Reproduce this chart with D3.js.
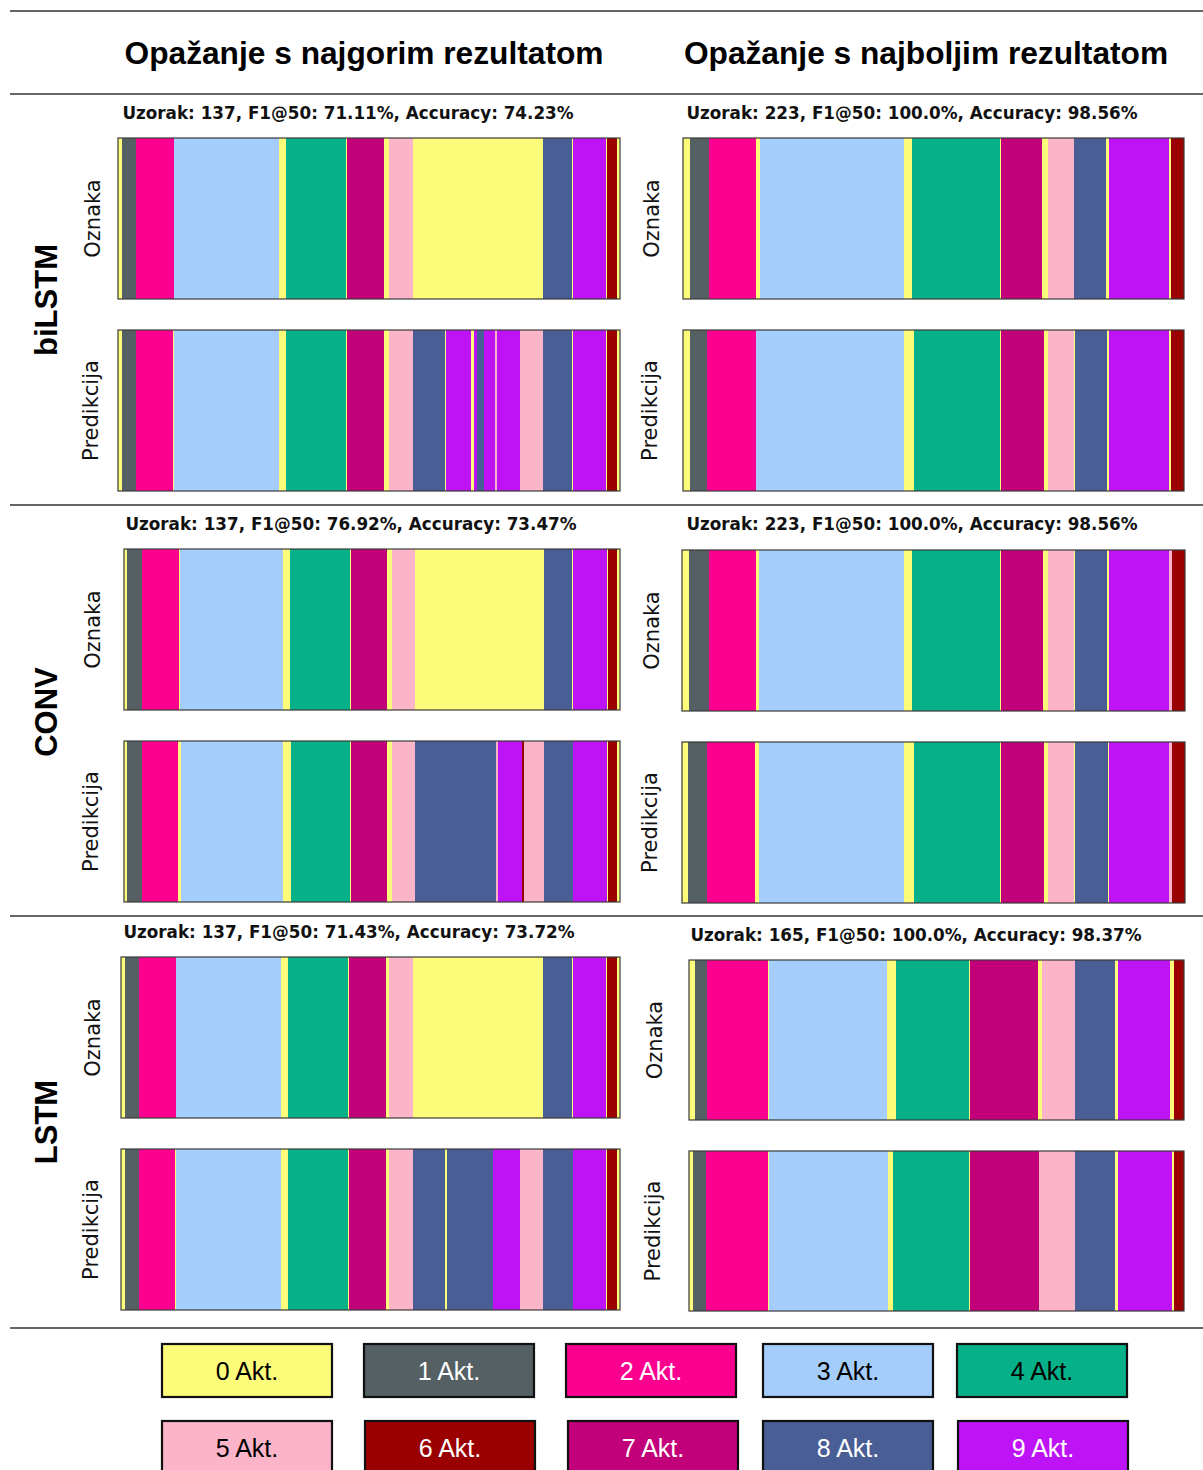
<!DOCTYPE html>
<html>
<head>
<meta charset="utf-8">
<script src="https://cdn.jsdelivr.net/npm/d3@7"></script>
<style>
html,body{margin:0;padding:0;background:#fff;}
svg{display:block;}
</style>
</head>
<body>
<svg id="chart" width="1203" height="1470"></svg>
<script>
// ---------------- DATA ----------------
const classIds = [0,1,2,3,4,5,6,7,8,9];
const legendLabels = ["0 Akt.","1 Akt.","2 Akt.","3 Akt.","4 Akt.","5 Akt.","6 Akt.","7 Akt.","8 Akt.","9 Akt."];
const classColors = ["#fdfb7a","#546064","#fc0090","#a4cdfb","#06b089","#fcb4c9","#9a0000","#c2007a","#485e95","#bf13f7"];
const legendTextColors = ["#000","#fff","#fff","#000","#000","#000","#fff","#fff","#fff","#fff"];

const columnTitles = ["Opažanje s najgorim rezultatom","Opažanje s najboljim rezultatom"];
const modelNames = ["biLSTM","CONV","LSTM"];
const rowNames = ["Oznaka","Predikcija"];

// per panel (row-major: model x [worst, best])
const sampleIds   = [[137,223],[137,223],[137,165]];
const f1Scores    = [["71.11","100.0"],["76.92","100.0"],["71.43","100.0"]];
const accuracies  = [["74.23","98.56"],["73.47","98.56"],["73.72","98.37"]];

// segments: [class, frames]
const biLSTM_worst_label = [[0,13],[1,40],[2,115],[3,314],[0,20],[4,182],[0,3],[7,110],[0,13],[5,72],[0,391],[8,86],[0,4],[9,97],[0,5],[6,30],[0,8]];
const biLSTM_worst_pred  = [[0,13],[1,40],[2,112],[0,3],[3,314],[0,20],[4,182],[0,3],[7,110],[0,13],[5,72],[8,96],[0,4],[9,75],[0,8],[9,10],[8,20],[9,35],[5,5],[9,68],[5,70],[8,86],[0,4],[9,97],[0,5],[6,30],[0,8]];
const biLSTM_best_label  = [[0,20],[1,58],[2,142],[0,10],[3,433],[0,25],[4,262],[0,4],[7,124],[0,17],[5,78],[8,97],[0,8],[9,180],[0,7],[6,38]];
const biLSTM_best_pred   = [[0,20],[1,53],[2,147],[3,443],[0,30],[4,257],[0,4],[7,128],[0,13],[5,78],[0,2],[8,98],[0,5],[9,180],[0,7],[6,38]];

const CONV_worst_label = [[0,10],[1,43],[2,113],[0,2],[3,310],[0,20],[4,180],[0,2],[7,110],[0,13],[5,70],[0,388],[8,84],[0,3],[9,100],[0,3],[6,27],[0,10]];
const CONV_worst_pred  = [[0,10],[1,43],[2,110],[0,8],[3,307],[0,23],[4,177],[0,2],[7,110],[0,13],[5,70],[8,242],[5,8],[9,72],[6,6],[5,60],[8,87],[9,100],[0,3],[6,27],[0,10]];
const CONV_best_label  = [[0,20],[1,61],[2,142],[0,8],[3,435],[0,25],[4,262],[0,3],[7,125],[0,17],[5,78],[0,2],[8,95],[0,8],[9,180],[5,7],[6,40]];
const CONV_best_pred   = [[0,18],[1,57],[2,143],[0,13],[3,435],[0,30],[4,257],[0,3],[7,130],[0,12],[5,78],[0,2],[8,98],[0,5],[9,180],[5,7],[6,40]];

const LSTM_worst_label = [[0,13],[1,40],[2,113],[3,314],[0,20],[4,181],[0,3],[7,111],[0,11],[5,72],[0,390],[8,85],[0,3],[9,99],[0,5],[6,28],[0,10]];
const LSTM_worst_pred  = [[0,13],[1,40],[2,110],[0,2],[3,315],[0,20],[4,181],[0,3],[7,111],[0,11],[5,72],[8,95],[0,5],[8,140],[9,80],[5,70],[8,88],[9,99],[0,5],[6,28],[0,10]];
const LSTM_best_label  = [[0,17],[1,38],[2,182],[0,2],[3,355],[0,26],[4,219],[0,3],[7,205],[0,10],[5,100],[8,120],[0,8],[9,157],[0,12],[6,30]];
const LSTM_best_pred   = [[0,12],[1,40],[2,185],[0,2],[3,358],[0,15],[4,227],[0,3],[7,208],[5,107],[8,120],[0,8],[9,162],[0,7],[6,30]];

const stripData = [
  [[biLSTM_worst_label, biLSTM_worst_pred],[biLSTM_best_label, biLSTM_best_pred]],
  [[CONV_worst_label, CONV_worst_pred],[CONV_best_label, CONV_best_pred]],
  [[LSTM_worst_label, LSTM_worst_pred],[LSTM_best_label, LSTM_best_pred]]
];

// ---------------- LAYOUT (positions, not data) ----------------
const layout = [
  [ {x0:118,x1:620,y:[138,330],h:161,sx:348,sy:113,lx:93},
    {x0:683,x1:1184,y:[138,330],h:161,sx:912,sy:113,lx:652} ],
  [ {x0:124,x1:620,y:[549,741],h:161,sx:351,sy:524,lx:93},
    {x0:682,x1:1185,y:[550,742],h:161,sx:912,sy:524,lx:652} ],
  [ {x0:121,x1:620,y:[957,1149],h:161,sx:349,sy:932,lx:93},
    {x0:689,x1:1184,y:[960,1151],h:160,sx:916,sy:935,lx:655} ]
];
const modelLabelY = [300,712,1122];
const hLines = [11,94,505,916,1328];
const legendBoxes = [
  [162,1344],[364,1344],[566,1344],[763,1344],[957,1344],
  [162,1421],[365,1421],[568,1421],[763,1421],[958,1421]
];

// ---------------- DRAW ----------------
const svg = d3.select("#chart");
const color = d3.scaleOrdinal().domain(classIds).range(classColors);

svg.selectAll("line.sep").data(hLines).join("line")
  .attr("class","sep")
  .attr("x1",10).attr("x2",1203)
  .attr("y1",d=>d).attr("y2",d=>d)
  .attr("stroke","#333").attr("stroke-width",1.6);

svg.selectAll("text.coltitle").data(columnTitles).join("text")
  .attr("class","coltitle")
  .attr("x",(d,i)=>i===0?364:926).attr("y",53)
  .attr("text-anchor","middle").attr("dominant-baseline","central")
  .attr("font-family","Liberation Sans, Arial, sans-serif")
  .attr("font-weight","bold").attr("font-size",31.7)
  .attr("fill","#000").text(d=>d);

modelNames.forEach((m,ri)=>{
  svg.append("text")
    .attr("transform",`translate(46,${modelLabelY[ri]}) rotate(-90)`)
    .attr("text-anchor","middle").attr("dominant-baseline","central")
    .attr("font-family","Liberation Sans, Arial, sans-serif")
    .attr("font-weight","bold").attr("font-size",31)
    .attr("fill","#000").text(m);

  [0,1].forEach(ci=>{
    const L = layout[ri][ci];
    svg.append("text")
      .attr("x",L.sx).attr("y",L.sy)
      .attr("text-anchor","middle").attr("dominant-baseline","central")
      .attr("font-family","DejaVu Sans, sans-serif")
      .attr("font-weight","bold").attr("font-size",16.8)
      .attr("fill","#111")
      .text(`Uzorak: ${sampleIds[ri][ci]}, F1@50: ${f1Scores[ri][ci]}%, Accuracy: ${accuracies[ri][ci]}%`);

    stripData[ri][ci].forEach((segs,k)=>{
      const total = d3.sum(segs,d=>d[1]);
      let acc = 0;
      const rows = segs.map(([c,n])=>{const r={c,start:acc,end:acc+n}; acc+=n; return r;});
      const x = d3.scaleLinear().domain([0,total]).range([L.x0,L.x1]);
      const y0 = L.y[k];
      const g = svg.append("g");
      g.selectAll("rect").data(rows).join("rect")
        .attr("x",d=>x(d.start))
        .attr("width",d=>Math.max(0,x(d.end)-x(d.start)))
        .attr("y",y0).attr("height",L.h)
        .attr("fill",d=>color(d.c))
        .attr("shape-rendering","crispEdges");
      g.append("rect")
        .attr("x",L.x0).attr("y",y0)
        .attr("width",L.x1-L.x0).attr("height",L.h)
        .attr("fill","none").attr("stroke","#3a3a3a").attr("stroke-width",1.2);
      svg.append("text")
        .attr("transform",`translate(${L.lx + (k===1?-2:0)},${y0+L.h/2}) rotate(-90)`)
        .attr("text-anchor","middle").attr("dominant-baseline","central")
        .attr("font-family","DejaVu Sans, sans-serif")
        .attr("font-size",21).attr("fill","#111")
        .text(rowNames[k]);
    });
  });
});

// legend
const lg = svg.selectAll("g.leg").data(classIds).join("g").attr("class","leg")
  .attr("transform",(d,i)=>`translate(${legendBoxes[i][0]},${legendBoxes[i][1]})`);
lg.append("rect").attr("x",0).attr("y",0).attr("width",170).attr("height",53)
  .attr("fill",d=>color(d)).attr("stroke","#111").attr("stroke-width",2.2);
lg.append("text").attr("x",85).attr("y",27)
  .attr("text-anchor","middle").attr("dominant-baseline","central")
  .attr("font-family","Liberation Sans, Arial, sans-serif")
  .attr("font-size",25)
  .attr("fill",d=>legendTextColors[d])
  .text(d=>legendLabels[d]);
</script>
</body>
</html>
